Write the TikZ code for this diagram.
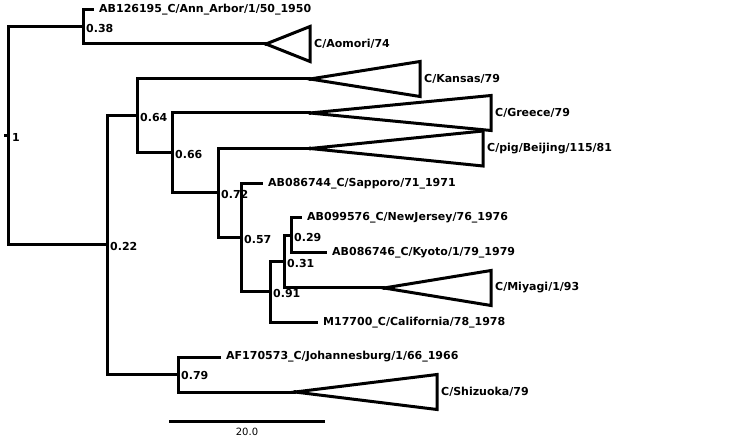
\documentclass[tikz,border=0pt]{standalone}
\usepackage{fontspec}
\setmainfont{DejaVu Sans}
\newfontfamily\treefont{DejaVu Sans Bold}
\usetikzlibrary{positioning}

\begin{document}
\begin{tikzpicture}[x=1pt, y=-1pt,
  branch/.style={line width=3pt},
  taxon/.style={anchor=west, inner ysep=0pt, inner xsep=5pt, font=\treefont\fontsize{11}{12}\selectfont},
  supp/.style={anchor=west, inner sep=0pt, font=\treefont\fontsize{11}{12}\selectfont},
  clade/.style={line width=3pt, fill=white, line join=miter}]
  \useasboundingbox (0,0) rectangle (731,438);

  % internal nodes
  \coordinate (stub) at (4,136);
  \coordinate (root) at (8,136);
  \coordinate (nA) at (83,27);
  \coordinate (nB) at (107,245);
  \coordinate (nC) at (137,116);
  \coordinate (nD) at (172,153);
  \coordinate (nE) at (218,193);
  \coordinate (nF) at (241,238);
  \coordinate (nG) at (270,292);
  \coordinate (nH) at (284,262);
  \coordinate (nI) at (291,236);
  \coordinate (nJ) at (178,374);

  % single taxa
  \node[taxon] (annarbor) at (94,10) {AB126195\_C/Ann\_Arbor/1/50\_1950};
  \node[taxon] (sapporo) at (263,184) {AB086744\_C/Sapporo/71\_1971};
  \node[taxon] (newjersey) at (302,218) {AB099576\_C/NewJersey/76\_1976};
  \node[taxon] (kyoto) at (327,253) {AB086746\_C/Kyoto/1/79\_1979};
  \node[taxon] (california) at (318,323) {M17700\_C/California/78\_1978};
  \node[taxon] (johannesburg) at (221,357) {AF170573\_C/Johannesburg/1/66\_1966};

  % branches
  \draw[branch] (stub) -- (root);
  \foreach \p/\c in {root/nA, root/nB, nA/annarbor, nB/nC, nB/nJ,
                     nC/nD, nD/nE, nE/nF, nF/sapporo, nF/nG, nG/nH,
                     nG/california, nH/nI, nI/newjersey, nI/kyoto, nJ/johannesburg}
    \draw[branch] (\p) |- (\c);

  % collapsed clades
  \foreach \n/\up/\ax/\rx/\y/\t in {%
    aomori/nA/266/310/44/{C/Aomori/74},%
    kansas/nC/310/420/79/{C/Kansas/79},%
    greece/nD/310/491/113/{C/Greece/79},%
    beijing/nE/310/483/148.5/{C/pig/Beijing/115/81},%
    miyagi/nH/384/491/288/{C/Miyagi/1/93},%
    shizuoka/nJ/295/437/392/{C/Shizuoka/79}%
  }{
    \coordinate (\n) at (\ax,\y);
    \draw[branch] (\up) |- (\n);
    \draw[clade] (\n) -- (\rx,\y-17.5) -- (\rx,\y+17.5) -- cycle;
    \fill (\n) circle (2pt);
    \node[taxon, inner xsep=4pt] (\n lab) at (\rx,\y) {\t};
  }

  % support values
  \node[supp] (rootval) at (12,137) {1};
  \foreach \n/\v in {nA/0.38, nB/0.22, nC/0.64, nD/0.66, nE/0.72, nF/0.57,
                     nG/0.91, nH/0.31, nI/0.29, nJ/0.79}
    \node[supp] (\n val) at ([xshift=3pt, yshift=-1pt]\n) {\v};

  % scale bar
  \coordinate (sbl) at (169,421);
  \coordinate (sbr) at (325,421);
  \draw[branch] (sbl) -- (sbr) node[midway, anchor=north, yshift=-6pt, inner sep=0pt, font=\fontsize{10}{11}\selectfont] (scale) {20.0};
\end{tikzpicture}
\end{document}
